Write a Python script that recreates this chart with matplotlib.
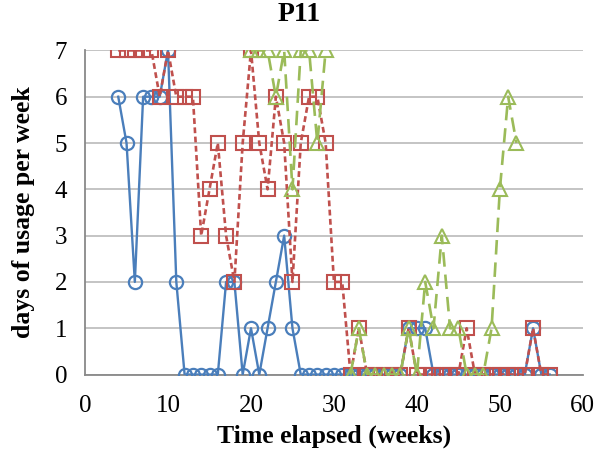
import numpy as np
import matplotlib.pyplot as plt

plt.rcParams['font.family'] = ['Liberation Serif', 'DejaVu Serif']

# weekly usage counts, weeks 4..56 (nan = no data that week)
weeks = np.arange(4, 57)

blue_days = [6, 5, 2, 6, 6, 6, 7, 2, 0, 0, 0, 0, 0, 2, 2, 0, 1, 0, 1, 2, 3, 1,
             0, 0, 0, 0, 0, 0, 0, 0, 0, 0, 0, 0, 0, 1, 1, 1, 0, 0, 0, 0, 0, 0,
             0, 0, 0, 0, 0, 0, 1, 0, 0]

red_days = [7, 7, 7, 7, 7, 6, 7, 6, 6, 6, 3, 4, 5, 3, 2, 5, 7, 5, 4, 6, 5, 2,
            5, 6, 6, 5, 2, 2, 0, 1, 0, 0, 0, 0, 0, 1, 0, 0, 0, 0, 0, 0, 1, 0,
            0, 0, 0, 0, 0, 0, 1, 0, 0]

nan = np.nan
green_days = [nan] * 16 + [7, 7, 7, 6, 7, 4, 7, 7, 5, 7, nan, nan,
              0, 1, 0, 0, 0, 0, 0, 1, 0, 2, 1, 3, 1, 1, 0, 0, 0, 1, 4, 6, 5] + [nan] * 4

fig = plt.figure(figsize=(5.99, 4.54), dpi=100)
ax = fig.add_axes([0.142, 0.175, 0.831, 0.714])

ax.plot(weeks, blue_days, color='#4A7EBB', lw=1.7, marker='o', ms=9.5,
        mfc='none', mec='#4A7EBB', mew=1.6, zorder=3)
ax.plot(weeks, red_days, color='#C0504D', lw=1.9, ls=(0, (2.2, 1.3)), marker='s', ms=9.5,
        mfc='none', mec='#C0504D', mew=1.5, zorder=4)
ax.plot(weeks, green_days, color='#9BBB59', lw=1.9, ls=(0, (5.5, 3)), marker='^', ms=10,
        mfc='none', mec='#9BBB59', mew=1.5, zorder=5)

ax.set_xlim(0, 60)
ax.set_ylim(0, 7)
ax.set_xticks(range(0, 61, 10))
ax.set_yticks(range(0, 8))
ax.yaxis.grid(True, color='#BFBFBF', lw=1.3)
ax.set_axisbelow(True)
for side in ['top', 'right']:
    ax.spines[side].set_visible(False)
for side in ['left', 'bottom']:
    ax.spines[side].set_color('#898989')
    ax.spines[side].set_linewidth(1.3)
ax.tick_params(length=0, labelsize=18)
ax.tick_params(axis='x', pad=15)
ax.tick_params(axis='y', pad=13)
for lab in ax.get_xticklabels() + ax.get_yticklabels():
    lab.set_clip_on(False)

fig.text(0.5, 0.996, 'P11', fontsize=20, fontweight='bold', ha='center', va='top')
ax.set_xlabel('Time elapsed (weeks)', fontsize=18.5, fontweight='bold', labelpad=5)
ax.set_ylabel('days of usage per week', fontsize=18.5, fontweight='bold', labelpad=14)

fig.savefig('out.png', dpi=100)
